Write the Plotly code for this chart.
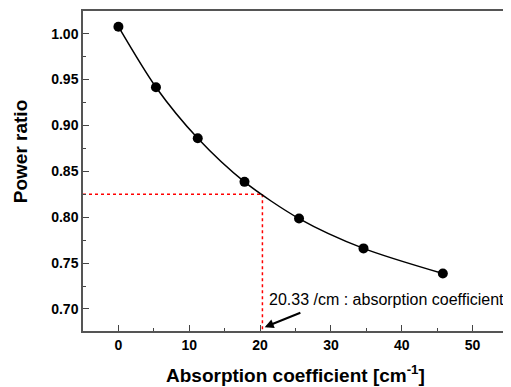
import plotly.graph_objects as go

absorption = [0, 5.3, 11.2, 17.8, 25.5, 34.6, 45.8]
power_ratio = [1.0076, 0.9416, 0.886, 0.8385, 0.7985, 0.766, 0.7386]

marker_x = 20.33
marker_y = 0.825
x_range = [-5, 55]
y_range = [0.676, 1.0247]
y_ticks = [0.70, 0.75, 0.80, 0.85, 0.90, 0.95, 1.00]
x_ticks = [0, 10, 20, 30, 40, 50]

fig = go.Figure()

fig.add_trace(go.Scatter(x=[x_range[0], marker_x], y=[marker_y, marker_y], mode="lines",
                         line=dict(color="red", width=1.5, dash="dot"), hoverinfo="skip"))
fig.add_trace(go.Scatter(x=[marker_x, marker_x], y=[marker_y, y_range[0]], mode="lines",
                         line=dict(color="red", width=1.5, dash="dot"), hoverinfo="skip"))

fig.add_trace(go.Scatter(x=absorption, y=power_ratio, mode="lines+markers",
                         line=dict(color="black", width=1.5, shape="spline", smoothing=0.8),
                         marker=dict(color="black", size=10)))

font_family = "Liberation Sans, Arial, sans-serif"

fig.update_layout(
    width=503, height=379,
    margin=dict(l=75, r=3, t=3, b=56, autoexpand=False),
    paper_bgcolor="white", plot_bgcolor="white",
    showlegend=False,
    font=dict(family=font_family, color="black"),
    xaxis=dict(range=x_range, tickvals=x_ticks, ticks="inside", ticklen=6, tickwidth=1,
               tickcolor="#444", showline=True, linecolor="#555", linewidth=1.5, mirror=True,
               showgrid=False, zeroline=False, automargin=False,
               tickfont=dict(size=14, family=font_family, weight="bold"),
               minor=dict(dtick=5, tick0=0, ticks="inside", ticklen=3, tickcolor="#444")),
    yaxis=dict(range=y_range, tickvals=y_ticks, tickformat=".2f", ticks="inside", ticklen=6,
               tickwidth=1, tickcolor="#444", showline=True, linecolor="#555", linewidth=1.5,
               mirror=True, showgrid=False, zeroline=False, automargin=False,
               tickfont=dict(size=14, family=font_family, weight="bold"),
               minor=dict(dtick=0.025, tick0=0.7, ticks="inside", ticklen=3, tickcolor="#444")),
)

fig.add_annotation(text="<b>Power ratio</b>", textangle=-90, xref="paper", yref="paper",
                   x=-0.148, y=0.559, xanchor="center", yanchor="middle", showarrow=False,
                   font=dict(size=19))

fig.add_annotation(text="<b>Absorption coefficient [cm<sup>-1</sup>]</b>", xref="paper",
                   yref="paper", x=0.5, y=-0.135, xanchor="center", yanchor="middle",
                   showarrow=False, font=dict(size=19))

fig.add_annotation(text="20.33 /cm : absorption coefficient", xref="x", yref="y",
                   x=20.96, y=0.710, xanchor="left", yanchor="middle", showarrow=False,
                   font=dict(size=16, family=font_family))

fig.add_annotation(x=20.65, y=0.6802, ax=25.9, ay=0.6965, xref="x", yref="y",
                   axref="x", ayref="y", text="", showarrow=True, arrowhead=2,
                   arrowsize=0.9, arrowwidth=2, arrowcolor="black")

fig.write_html("out.html")
